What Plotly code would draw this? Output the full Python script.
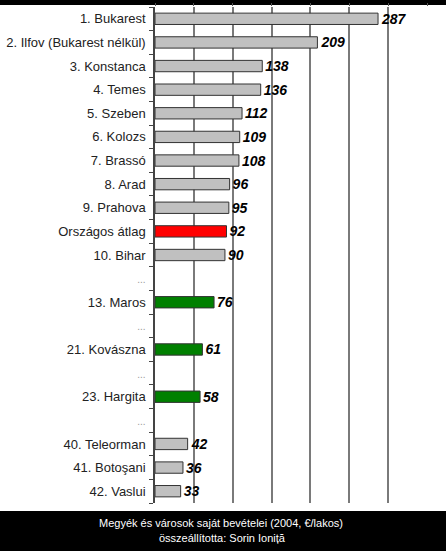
import plotly.graph_objects as go

labels = ["1. Bukarest", "2. Ilfov (Bukarest nélkül)", "3. Konstanca", "4. Temes",
          "5. Szeben", "6. Kolozs", "7. Brassó", "8. Arad", "9. Prahova",
          "Országos átlag", "10. Bihar", "...", "13. Maros", "...", "21. Kovászna",
          "...", "23. Hargita", "...", "40. Teleorman", "41. Botoşani", "42. Vaslui"]
values = [287, 209, 138, 136, 112, 109, 108, 96, 95, 92, 90, None, 76, None, 61,
          None, 58, None, 42, 36, 33]
kinds = ["c", "c", "c", "c", "c", "c", "c", "c", "c", "avg", "c", "gap", "hu", "gap",
         "hu", "gap", "hu", "gap", "c", "c", "c"]
caption1 = "Megyék és városok saját bevételei (2004, €/lakos)"
caption2 = "összeállította: Sorin Ioniță"

colors = {"c": "#c0c0c0", "avg": "#ff0000", "hu": "#008000", "gap": "#c0c0c0"}
keys = [f"k{i}" for i in range(len(labels))]
ticktext = [("<span style='color:#9a9a9a;font-size:10px'>" + l + "</span>") if k == "gap" else l
            for l, k in zip(labels, kinds)]

fig = go.Figure(go.Bar(
    x=values, y=keys, orientation="h", width=0.48,
    marker=dict(color=[colors[k] for k in kinds], line=dict(color="#333333", width=1)),
    text=[("" if v is None else str(v)) for v in values],
    textposition="outside", cliponaxis=False, constraintext="none",
    textfont=dict(family="Liberation Sans, Arial", size=14, color="black",
                  weight="bold", style="italic"),
    hoverinfo="skip",
))

def py(Y):
    return (503 - Y) / 496

fig.update_layout(
    width=446, height=551,
    margin=dict(l=155, r=19, t=7, b=48),
    paper_bgcolor="black", plot_bgcolor="white",
    showlegend=False,
    font=dict(family="Liberation Sans, Arial", size=13, color="#222222"),
    xaxis=dict(range=[0, 350], dtick=50, tick0=0, showgrid=True, gridcolor="#7a7a7a",
               gridwidth=2, zeroline=False, showticklabels=False, side="top",
               ticks="outside", ticklen=3, tickcolor="#555555", showline=False,
               automargin=False),
    yaxis=dict(type="category", categoryorder="array", categoryarray=keys,
               tickmode="array", tickvals=keys, ticktext=ticktext,
               autorange="reversed", showline=True, linecolor="#444444", linewidth=1.5,
               ticks="outside", tickson="boundaries", ticklen=4, tickcolor="#444444",
               showgrid=False, ticklabelstandoff=5, automargin=False),
    shapes=[
        dict(type="rect", xref="paper", yref="paper", x0=-1, x1=2,
             y0=py(511), y1=py(5), fillcolor="white", line=dict(width=0), layer="below"),
    ],
    annotations=[
        dict(text=caption1, xref="paper", yref="paper",
             x=(221 - 155) / 272, y=py(523), xanchor="center", yanchor="middle",
             showarrow=False, font=dict(color="white", size=11,
                                        family="Liberation Sans, Arial")),
        dict(text=caption2, xref="paper", yref="paper",
             x=(222 - 155) / 272, y=py(538), xanchor="center", yanchor="middle",
             showarrow=False, font=dict(color="white", size=11,
                                        family="Liberation Sans, Arial")),
    ],
)

fig.write_html("out.html", config={"displayModeBar": False},
               post_script="document.body.style.margin='0';")
